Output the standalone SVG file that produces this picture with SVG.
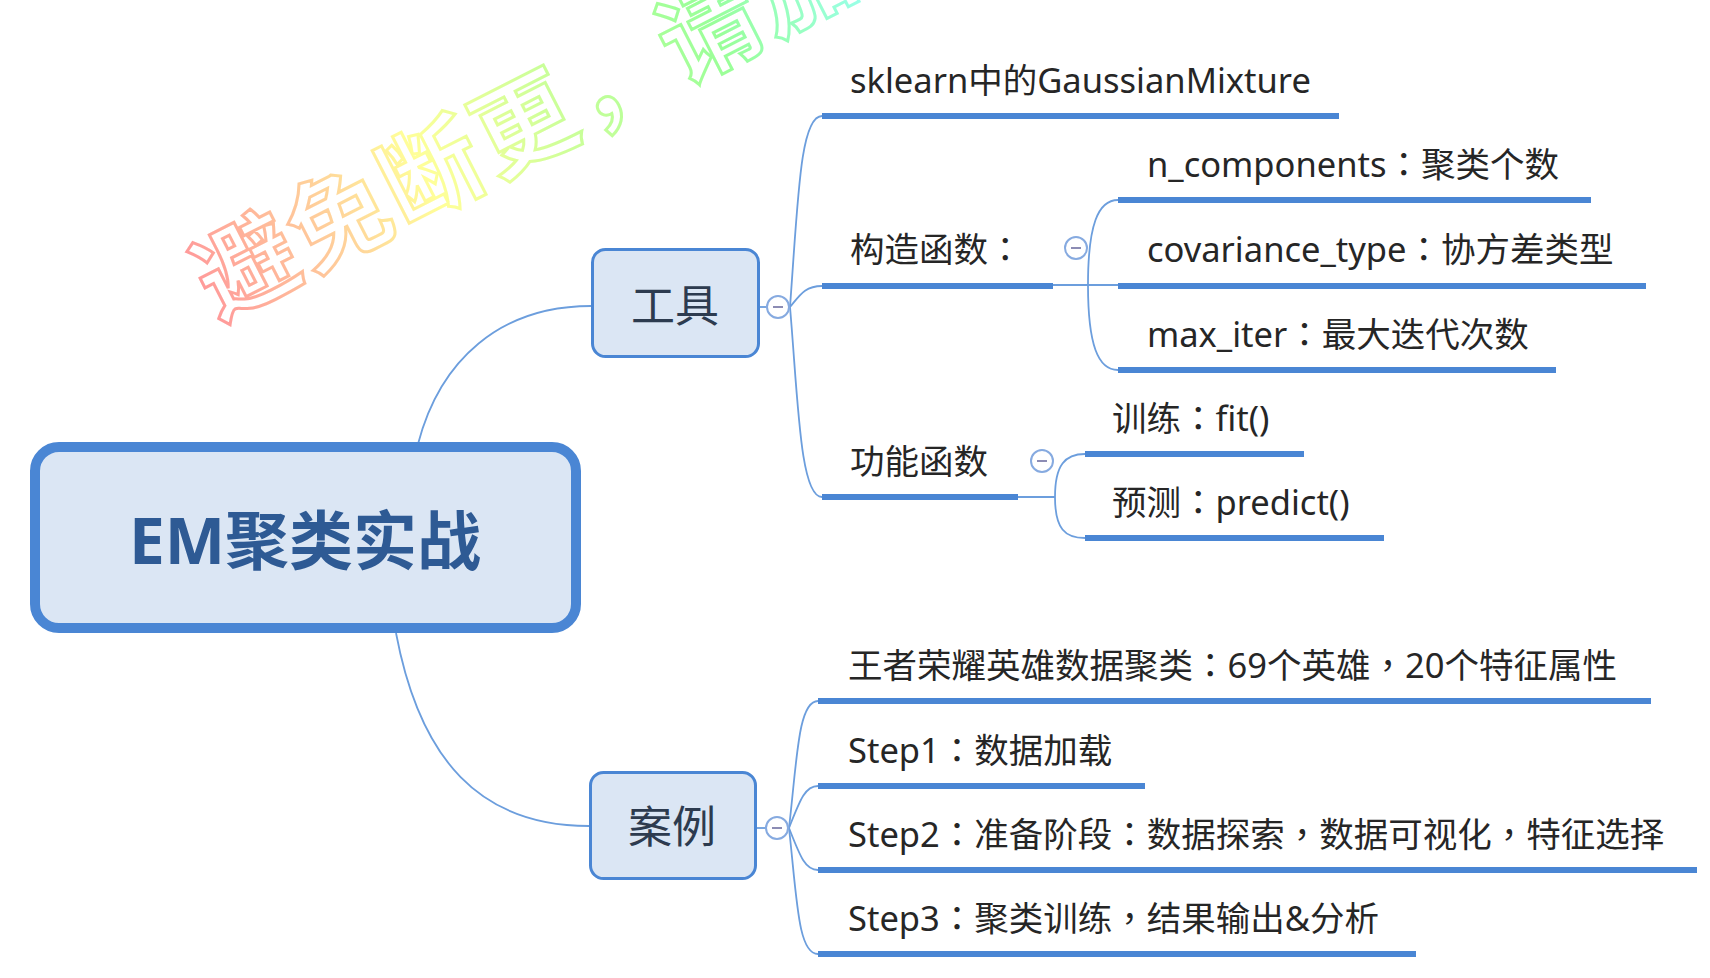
<svg xmlns="http://www.w3.org/2000/svg" width="1710" height="978" viewBox="0 0 1710 978">
<defs>
<style>
.bg{fill:#ffffff}
.node{fill:#DBE6F4;stroke:#4A86D4}
.conn{fill:none;stroke:#6C9EDD;stroke-width:1.8}
.ul{fill:none;stroke:#4A86D4;stroke-width:6}
.tog{fill:#ffffff;stroke:#86AAE0;stroke-width:2}
.togm{stroke:#8C8CB4;stroke-width:2}
.leaf{font-family:"Noto Sans","Noto Sans CJK SC",sans-serif;font-size:34.5px;fill:#262626}
.p{font-family:"Noto Sans CJK TC","Noto Sans CJK SC",sans-serif}
.main{font-family:"Noto Sans","Noto Sans CJK SC",sans-serif;font-size:44px;fill:#2D3B4F;text-anchor:middle}
.root{font-family:"Noto Sans","Noto Sans CJK SC",sans-serif;font-size:64px;font-weight:bold;fill:#2E5A94;text-anchor:middle}
.wm{font-family:"Noto Sans CJK SC",sans-serif;font-size:100px;font-weight:bold;fill:#ffffff;stroke:url(#rain);stroke-width:3;letter-spacing:4px}
</style>
<linearGradient id="rain" gradientUnits="userSpaceOnUse" x1="0" y1="0" x2="720" y2="0">
<stop offset="0" stop-color="#FF9A9A"/>
<stop offset="0.2" stop-color="#FFD09A"/>
<stop offset="0.35" stop-color="#FFFF99"/>
<stop offset="0.55" stop-color="#CCFF99"/>
<stop offset="0.8" stop-color="#99FF99"/>
<stop offset="1" stop-color="#99FFE8"/>
</linearGradient>
</defs>
<rect class="bg" x="0" y="0" width="1710" height="978"/>

<g id="watermark" transform="translate(218,321) rotate(-27)">
<text class="wm" x="0" y="0">避免断更，请加</text>
</g>

<g id="connectors">
<path class="conn" d="M418,444 C440,360 500,306 591,306"/>
<path class="conn" d="M396,633 C420,760 480,826 589,826"/>
<path class="conn" d="M760,307 L767,307"/>
<path class="conn" d="M790,307 C798,200 800,116 822,116"/>
<path class="conn" d="M790,307 C800,295 805,286 822,286"/>
<path class="conn" d="M790,307 C798,400 800,497 822,497"/>
<path class="conn" d="M1053,285 L1118,285"/>
<path class="conn" d="M1088,285 C1088,225 1098,200 1118,200"/>
<path class="conn" d="M1088,285 C1088,345 1098,370 1118,370"/>
<path class="conn" d="M1018,497 L1055,497"/>
<path class="conn" d="M1055,497 C1055,465 1065,454 1085,454"/>
<path class="conn" d="M1055,497 C1055,529 1065,538 1085,538"/>
<path class="conn" d="M757,828 L766,828"/>
<path class="conn" d="M789,828 C797,760 798,701 818,701"/>
<path class="conn" d="M789,828 C800,800 805,786 818,786"/>
<path class="conn" d="M789,828 C800,856 805,870 818,870"/>
<path class="conn" d="M789,828 C797,900 798,954 818,954"/>
</g>

<g id="root">
<rect class="node" x="35" y="447" width="541" height="181" rx="24" stroke-width="10"/>
<text class="root" x="305" y="564">EM聚类实战</text>
</g>

<g id="tools">
<rect class="node" x="592.5" y="249.5" width="166" height="107" rx="13" stroke-width="3"/>
<text class="main" x="675" y="322">工具</text>
<circle class="tog" cx="778" cy="307" r="11"/>
<line class="togm" x1="773" y1="307" x2="783" y2="307"/>
</g>

<g id="sklearn">
<text class="leaf" x="850" y="93">sklearn中的GaussianMixture</text>
<line class="ul" x1="822" y1="116" x2="1339" y2="116"/>
</g>

<g id="ctor">
<text class="leaf" x="850" y="262">构造函数<tspan class="p">：</tspan></text>
<line class="ul" x1="822" y1="286" x2="1053" y2="286"/>
<circle class="tog" cx="1076" cy="248" r="11"/>
<line class="togm" x1="1071" y1="248" x2="1081" y2="248"/>
</g>

<g id="ncomp">
<text class="leaf" x="1147" y="177">n_components<tspan class="p">：</tspan>聚类个数</text>
<line class="ul" x1="1118" y1="200" x2="1591" y2="200"/>
</g>
<g id="covtype">
<text class="leaf" x="1147" y="262">covariance_type<tspan class="p">：</tspan>协方差类型</text>
<line class="ul" x1="1118" y1="286" x2="1646" y2="286"/>
</g>
<g id="maxiter">
<text class="leaf" x="1147" y="347">max_iter<tspan class="p">：</tspan>最大迭代次数</text>
<line class="ul" x1="1118" y1="370" x2="1556" y2="370"/>
</g>

<g id="func">
<text class="leaf" x="850" y="474">功能函数</text>
<line class="ul" x1="822" y1="497" x2="1018" y2="497"/>
<circle class="tog" cx="1042" cy="461" r="11"/>
<line class="togm" x1="1037" y1="461" x2="1047" y2="461"/>
</g>
<g id="fit">
<text class="leaf" x="1112" y="431">训练<tspan class="p">：</tspan>fit()</text>
<line class="ul" x1="1085" y1="454" x2="1304" y2="454"/>
</g>
<g id="predict">
<text class="leaf" x="1112" y="515">预测<tspan class="p">：</tspan>predict()</text>
<line class="ul" x1="1085" y1="538" x2="1384" y2="538"/>
</g>

<g id="cases">
<rect class="node" x="590.5" y="772.5" width="165" height="106" rx="13" stroke-width="3"/>
<text class="main" x="672" y="843">案例</text>
<circle class="tog" cx="777" cy="828" r="11"/>
<line class="togm" x1="772" y1="828" x2="782" y2="828"/>
</g>
<g id="wzry">
<text class="leaf" x="848" y="678">王者荣耀英雄数据聚类<tspan class="p">：</tspan>69个英雄<tspan class="p">，</tspan>20个特征属性</text>
<line class="ul" x1="818" y1="701" x2="1651" y2="701"/>
</g>
<g id="step1">
<text class="leaf" x="848" y="763">Step1<tspan class="p">：</tspan>数据加载</text>
<line class="ul" x1="818" y1="786" x2="1145" y2="786"/>
</g>
<g id="step2">
<text class="leaf" x="848" y="847">Step2<tspan class="p">：</tspan>准备阶段<tspan class="p">：</tspan>数据探索<tspan class="p">，</tspan>数据可视化<tspan class="p">，</tspan>特征选择</text>
<line class="ul" x1="818" y1="870" x2="1697" y2="870"/>
</g>
<g id="step3">
<text class="leaf" x="848" y="931">Step3<tspan class="p">：</tspan>聚类训练<tspan class="p">，</tspan>结果输出&amp;分析</text>
<line class="ul" x1="818" y1="954" x2="1416" y2="954"/>
</g>
</svg>
